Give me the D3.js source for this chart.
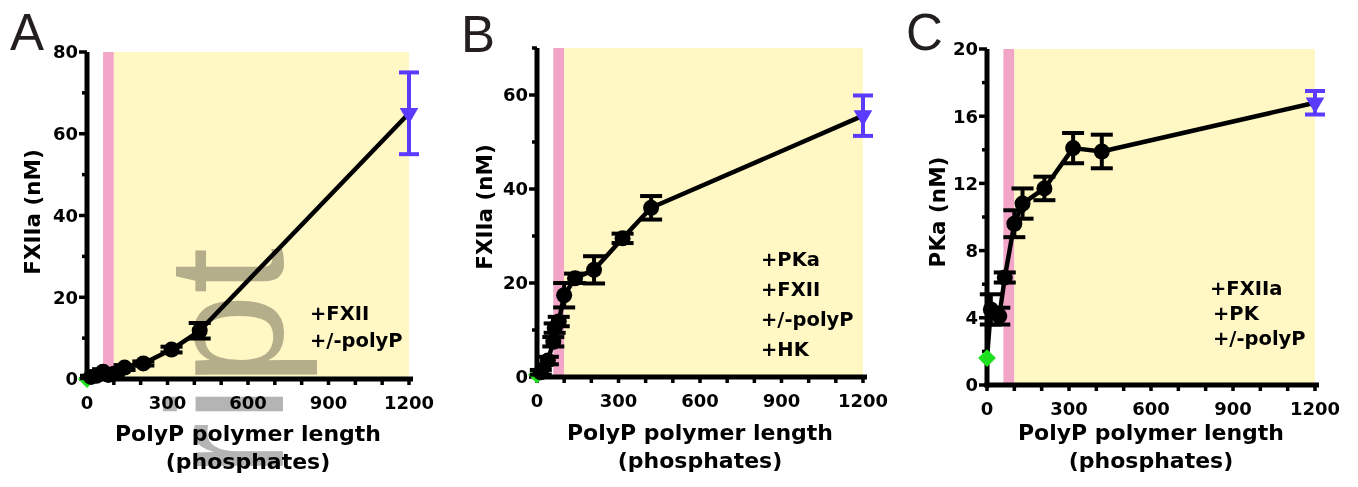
<!DOCTYPE html>
<html>
<head>
<meta charset="utf-8">
<script src="https://cdn.jsdelivr.net/npm/d3@7"></script>
<style>
  html, body { margin: 0; padding: 0; background: #fff; }
  svg { display: block; }
</style>
</head>
<body>
<svg id="fig" width="1358" height="487"></svg>
<script>
// ── Data ────────────────────────────────────────────────────────────────
const xTicks  = [0, 300, 600, 900, 1200];
const pinkBand   = [60, 100];     // polyP lengths shaded pink
const yellowBand = [100, 1200];   // polyP lengths shaded yellow

// A: FXII autoactivation
const lenA = [15, 35, 60, 80, 100, 140, 210, 315, 420];
const valA = [0.5, 0.8, 1.8, 1.0, 1.3, 2.8, 3.8, 7.2, 11.8];
const errA = [0.3, 0.3, 0.6, 0.3, 0.3, 0.6, 0.5, 0.7, 1.9];

// B: FXII activation by PKa (+HK)
const lenB = [14, 40, 60, 65, 80, 100, 140, 210, 315, 420];
const valB = [1.0, 3.5, 7.5, 10.4, 11.8, 17.4, 21.0, 22.8, 29.5, 36.0];
const errB = [0.5, 0.8, 1.0, 1.0, 1.0, 2.6, 1.0, 2.9, 1.0, 2.5];

// C: PK activation by FXIIa
const lenC = [14, 45, 65, 100, 130, 210, 315, 420];
const valC = [4.5, 4.1, 6.4, 9.6, 10.8, 11.7, 14.1, 13.9];
const errC = [0.9, 0.5, 0.3, 0.8, 0.9, 0.7, 0.9, 1.0];

// no-polyP control (green) and long-chain polyP (blue), per panel A/B/C
const ctrlVal = [0, 0.5, 1.6];
const longLen = 1200;
const longVal = [65, 55.6, 16.8];
const longErr = [10, 4.3, 0.7];

const yTicksA = [0, 20, 40, 60, 80];
const yTicksB = [0, 20, 40, 60];
const yTicksC = [0, 4, 8, 12, 16, 20];

const notesA = ['+FXII', '+/-polyP'];
const notesB = ['+PKa', '+FXII', '+/-polyP', '+HK'];
const notesC = ['+FXIIa', '+PK', '+/-polyP'];

// ── Style ───────────────────────────────────────────────────────────────
const YELLOW = '#FFF7C4';
const PINK   = '#F3A5C8';
const BLUE   = '#5B3BFF';
const GREEN  = '#1EE01E';
const INK    = '#000';
const BOLD   = '"DejaVu Sans", sans-serif';

const panels = [
  { letter: 'A', lx: 10, ly: 50, x0: 87, x1: 409, yZero: 379, yTop: 52, yMax: 80, minorStep: 10,
    ticks: yTicksA, label: 'FXIIa (nM)', labX: 40, labY: 212, titleY: 441,
    len: lenA, val: valA, err: errA, i: 0,
    notes: notesA, noteX: [310, 310], noteY: [320, 347], watermark: true },
  { letter: 'B', lx: 461, ly: 52, x0: 537, x1: 863, yZero: 377, yTop: 48, yMax: 70, minorStep: 10,
    ticks: yTicksB, label: 'FXIIa (nM)', labX: 492, labY: 207, titleY: 440,
    len: lenB, val: valB, err: errB, i: 1,
    notes: notesB, noteX: [761, 761, 761, 761], noteY: [266, 296, 326, 356] },
  { letter: 'C', lx: 906, ly: 50, x0: 987, x1: 1315, yZero: 385, yTop: 49, yMax: 20, minorStep: 2,
    ticks: yTicksC, label: 'PKa (nM)', labX: 945, labY: 212, titleY: 440,
    len: lenC, val: valC, err: errC, i: 2,
    notes: notesC, noteX: [1210, 1213, 1213], noteY: [295, 320, 345] },
];

const svg = d3.select('#fig');

panels.forEach(p => {
  const g = svg.append('g');
  const x = d3.scaleLinear().domain([0, 1200]).range([p.x0, p.x1]);
  const y = d3.scaleLinear().domain([0, p.yMax]).range([p.yZero, p.yTop]);

  // panel letter
  g.append('text')
    .attr('x', p.lx).attr('y', p.ly)
    .attr('font-family', '"Liberation Sans", Arial, sans-serif')
    .attr('font-size', 51).attr('fill', '#231f20')
    .text(p.letter);

  // shaded bands
  g.append('rect')
    .attr('x', x(pinkBand[0])).attr('width', x(pinkBand[1]) - x(pinkBand[0]))
    .attr('y', y(p.yMax)).attr('height', y(0) - y(p.yMax))
    .attr('fill', PINK);
  g.append('rect')
    .attr('x', x(yellowBand[0])).attr('width', x(yellowBand[1]) - x(yellowBand[0]))
    .attr('y', y(p.yMax)).attr('height', y(0) - y(p.yMax))
    .attr('fill', YELLOW);

  // faint page watermark crossing panel A (only its visible part)
  if (p.watermark) {
    g.append('text')
      .attr('transform', 'translate(283,248) rotate(-90)')
      .attr('text-anchor', 'end')
      .attr('font-family', '"Liberation Sans", Arial, sans-serif')
      .attr('font-size', 165)
      .attr('fill', '#b4b4b4')
      .style('mix-blend-mode', 'multiply')
      .text('ript');
  }

  // ── axes ──
  const minor = d3.range(0, p.yMax + 0.001, p.minorStep).filter(v => !p.ticks.includes(v));
  g.selectAll('.ymin').data(minor).join('line')
    .attr('x1', x(0)).attr('x2', x(0) - 5)
    .attr('y1', d => y(d)).attr('y2', d => y(d))
    .attr('stroke', INK).attr('stroke-width', 3.5);
  g.selectAll('.ymaj').data(p.ticks).join('line')
    .attr('x1', x(0)).attr('x2', x(0) - 8)
    .attr('y1', d => y(d)).attr('y2', d => y(d))
    .attr('stroke', INK).attr('stroke-width', 3.5);
  g.selectAll('.ylab').data(p.ticks).join('text')
    .attr('x', x(0) - 9).attr('y', d => y(d)).attr('dy', '0.36em')
    .attr('text-anchor', 'end')
    .attr('font-family', BOLD).attr('font-weight', 'bold').attr('font-size', 18)
    .attr('fill', INK)
    .text(d => d);

  g.append('line')
    .attr('x1', x(0)).attr('x2', x(0))
    .attr('y1', y(0) + 2.5).attr('y2', y(p.yMax))
    .attr('stroke', INK).attr('stroke-width', 5);

  g.selectAll('.xt').data(x.ticks(12)).join('line')
    .attr('x1', d => x(d)).attr('x2', d => x(d))
    .attr('y1', y(0)).attr('y2', y(0) + 6)
    .attr('stroke', INK).attr('stroke-width', 3.5);
  g.append('line')
    .attr('x1', x(0) - 2.5).attr('x2', x(1200) + 4)
    .attr('y1', y(0)).attr('y2', y(0))
    .attr('stroke', INK).attr('stroke-width', 5);
  g.selectAll('.xlab').data(xTicks).join('text')
    .attr('x', d => x(d)).attr('y', y(0) + 30)
    .attr('text-anchor', 'middle')
    .attr('font-family', BOLD).attr('font-weight', 'bold').attr('font-size', 18)
    .attr('fill', INK)
    .text(d => d);

  // axis titles
  const midX = (p.x0 + p.x1) / 2;
  g.append('text')
    .attr('x', midX).attr('y', p.titleY)
    .attr('text-anchor', 'middle')
    .attr('font-family', BOLD).attr('font-weight', 'bold').attr('font-size', 22)
    .text('PolyP polymer length');
  g.append('text')
    .attr('x', midX).attr('y', p.titleY + 28)
    .attr('text-anchor', 'middle')
    .attr('font-family', BOLD).attr('font-weight', 'bold').attr('font-size', 22)
    .text('(phosphates)');
  g.append('text')
    .attr('transform', `translate(${p.labX},${p.labY}) rotate(-90)`)
    .attr('text-anchor', 'middle')
    .attr('font-family', BOLD).attr('font-weight', 'bold').attr('font-size', 21.5)
    .text(p.label);

  // annotations
  g.selectAll('.note').data(p.notes).join('text')
    .attr('x', (d, i) => p.noteX[i]).attr('y', (d, i) => p.noteY[i])
    .attr('font-family', BOLD).attr('font-weight', 'bold').attr('font-size', 19.5)
    .attr('fill', INK)
    .text(d => d);

  // ── data ──
  const pts  = p.len.map((l, k) => ({ x: l, y: p.val[k], e: p.err[k] }));
  const ctrl = { x: 0, y: ctrlVal[p.i] };
  const lng  = { x: longLen, y: longVal[p.i], e: longErr[p.i] };

  const line = d3.line().x(d => x(d.x)).y(d => y(d.y));
  g.append('path')
    .datum([ctrl, ...pts, lng])
    .attr('d', line)
    .attr('fill', 'none').attr('stroke', INK).attr('stroke-width', 4.5)
    .attr('stroke-linejoin', 'round');

  // no-polyP control
  g.append('path')
    .attr('d', d3.symbol(d3.symbolSquare, 160)())
    .attr('transform', `translate(${x(ctrl.x)},${y(ctrl.y)}) rotate(45)`)
    .attr('fill', GREEN);

  // error bars + markers
  const capW = 11;
  const eb = g.selectAll('.eb').data(pts).join('g');
  eb.append('line')
    .attr('x1', d => x(d.x)).attr('x2', d => x(d.x))
    .attr('y1', d => y(d.y - d.e)).attr('y2', d => y(d.y + d.e))
    .attr('stroke', INK).attr('stroke-width', 4);
  eb.append('line')
    .attr('x1', d => x(d.x) - capW).attr('x2', d => x(d.x) + capW)
    .attr('y1', d => y(d.y + d.e)).attr('y2', d => y(d.y + d.e))
    .attr('stroke', INK).attr('stroke-width', 4);
  eb.append('line')
    .attr('x1', d => x(d.x) - capW).attr('x2', d => x(d.x) + capW)
    .attr('y1', d => y(d.y - d.e)).attr('y2', d => y(d.y - d.e))
    .attr('stroke', INK).attr('stroke-width', 4);
  g.selectAll('.pt').data(pts).join('circle')
    .attr('cx', d => x(d.x)).attr('cy', d => y(d.y)).attr('r', 8)
    .attr('fill', INK);

  // long-chain polyP
  const bx = x(lng.x);
  g.append('line')
    .attr('x1', bx).attr('x2', bx)
    .attr('y1', y(lng.y - lng.e)).attr('y2', y(lng.y + lng.e))
    .attr('stroke', BLUE).attr('stroke-width', 4);
  [lng.y + lng.e, lng.y - lng.e].forEach(v => {
    g.append('line')
      .attr('x1', bx - 10).attr('x2', bx + 10)
      .attr('y1', y(v)).attr('y2', y(v))
      .attr('stroke', BLUE).attr('stroke-width', 4);
  });
  g.append('path')
    .attr('d', d3.symbol(d3.symbolTriangle, 150)())
    .attr('transform', `translate(${bx},${y(lng.y)}) rotate(180)`)
    .attr('fill', BLUE);
});
</script>
</body>
</html>
